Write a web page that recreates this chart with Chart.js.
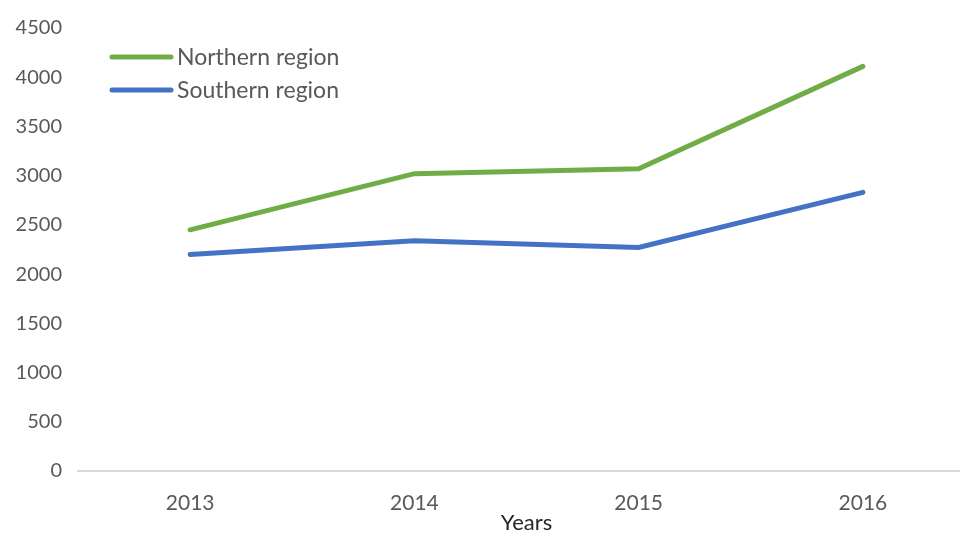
<!DOCTYPE html>
<html>
<head>
<meta charset="utf-8">
<script src="https://cdn.jsdelivr.net/npm/chart.js"></script>
<style>
    html, body { margin: 0; padding: 0; background: #fff; overflow: hidden; }
    #wrap { position: relative; width: 975px; height: 536px; }
</style>
</head>
<body>
<div id="wrap"><canvas id="lineChart"></canvas></div>
<script>
// 数据
var years = ['2013', '2014', '2015', '2016'];
var northernValues = [2450, 3020, 3070, 4110];
var southernValues = [2200, 2340, 2270, 2830];
var yTicks = [0, 500, 1000, 1500, 2000, 2500, 3000, 3500, 4000, 4500];

var fontFamily = "Lato, 'Open Sans', sans-serif";

// 图例画在图表区域内 (左上角)
var insideLegend = {
    id: 'insideLegend',
    afterDraw: function(chart) {
        var ctx = chart.ctx;
        var sets = chart.data.datasets;
        ctx.save();
        ctx.font = '23px ' + fontFamily;
        ctx.textBaseline = 'middle';
        ctx.lineCap = 'round';
        for (var i = 0; i < sets.length; i++) {
            var y = 57 + i * 33;
            ctx.strokeStyle = sets[i].borderColor;
            ctx.lineWidth = 5;
            ctx.beginPath();
            ctx.moveTo(112, y);
            ctx.lineTo(171, y);
            ctx.stroke();
            ctx.fillStyle = '#595959';
            ctx.fillText(sets[i].label, 177, y + 1);
        }
        ctx.restore();
    }
};

var ctx = document.getElementById('lineChart');
new Chart(ctx, {
    type: 'line',
    data: {
        labels: years,
        datasets: [{
            label: 'Northern region',
            data: northernValues,
            borderColor: '#70ad47',
            backgroundColor: '#70ad47',
            borderWidth: 5,
            pointRadius: 0,
            borderCapStyle: 'round',
            tension: 0
        }, {
            label: 'Southern region',
            data: southernValues,
            borderColor: '#4472c4',
            backgroundColor: '#4472c4',
            borderWidth: 5,
            pointRadius: 0,
            borderCapStyle: 'round',
            tension: 0
        }]
    },
    options: {
        responsive: true,
        maintainAspectRatio: false,
        animation: false,
        layout: { padding: { top: 18, left: 0, right: 0, bottom: 0 } },
        plugins: {
            legend: { display: false },
            tooltip: { enabled: false }
        },
        scales: {
            x: {
                offset: true,
                afterFit: function(axis) { axis.height = 65; },
                grid: { display: false, drawTicks: false },
                border: { display: true, color: '#d9d9d9', width: 2 },
                ticks: {
                    color: '#595959',
                    font: { family: fontFamily, size: 21 },
                    padding: 20
                },
                title: {
                    display: true,
                    text: 'Years',
                    color: '#262626',
                    font: { family: fontFamily, size: 22 },
                    padding: { top: 0, bottom: 0 }
                }
            },
            y: {
                min: 0,
                max: 4500,
                afterBuildTicks: function(axis) {
                    axis.ticks = yTicks.map(function(v) { return { value: v }; });
                },
                afterFit: function(axis) { axis.width = 78; },
                grid: { display: false, drawTicks: false },
                border: { display: false },
                ticks: {
                    color: '#595959',
                    font: { family: fontFamily, size: 20 },
                    padding: 16,
                    callback: function(value) { return String(value); }
                }
            }
        }
    },
    plugins: [insideLegend]
});
</script>
</body>
</html>
